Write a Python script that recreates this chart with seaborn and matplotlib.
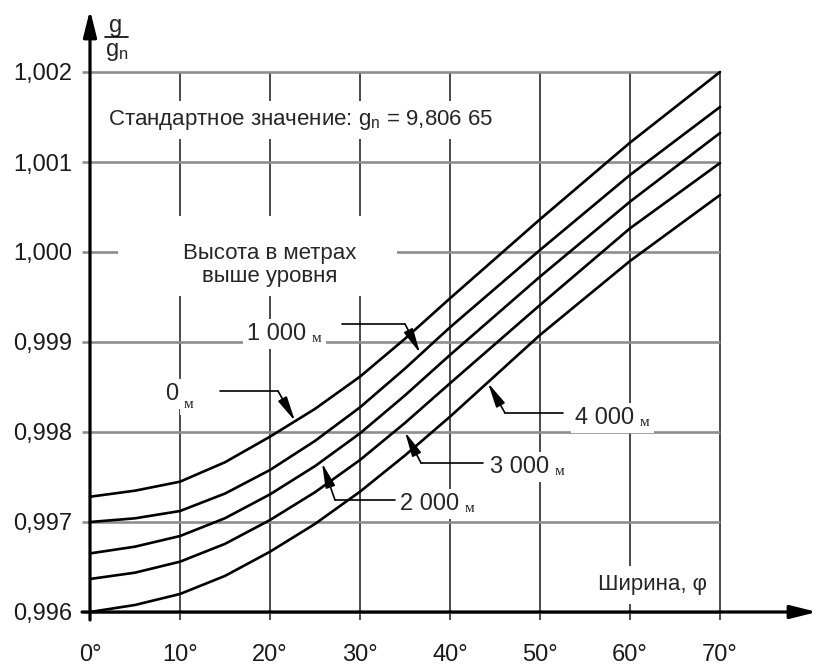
import numpy as np
import pandas as pd
import matplotlib
matplotlib.use("Agg")
import matplotlib.pyplot as plt
import seaborn as sns
from matplotlib.patches import Rectangle

# ---------------- data ----------------
latitude = [0, 5, 10, 15, 20, 25, 30, 35, 40, 45, 50, 60, 70]
g_0m    = [0.997281, 0.997348, 0.997448, 0.997664, 0.997948, 0.998257, 0.998615, 0.999036,
           0.999485, 0.999924, 1.000363, 1.001215, 1.002000]
g_1000m = [0.997000, 0.997041, 0.997122, 0.997316, 0.997578, 0.997901, 0.998274, 0.998705,
           0.999163, 0.999593, 1.000022, 1.000856, 1.001611]
g_2000m = [0.996651, 0.996726, 0.996844, 0.997042, 0.997307, 0.997621, 0.997985, 0.998407,
           0.998856, 0.999291, 0.999726, 1.000559, 1.001322]
g_3000m = [0.996367, 0.996437, 0.996559, 0.996757, 0.997022, 0.997331, 0.997689, 0.998101,
           0.998541, 0.998976, 0.999411, 1.000263, 1.000989]
g_4000m = [0.996000, 0.996078, 0.996200, 0.996401, 0.996670, 0.996979, 0.997337, 0.997740,
           0.998170, 0.998624, 0.999078, 0.999900, 1.000633]
heights = ["0 м", "1 000 м", "2 000 м", "3 000 м", "4 000 м"]

x_ticks = [0, 10, 20, 30, 40, 50, 60, 70]
x_tick_labels = ["0°", "10°", "20°", "30°", "40°", "50°", "60°", "70°"]
y_ticks = [0.996, 0.997, 0.998, 0.999, 1.000, 1.001, 1.002]
y_tick_labels = ["0,996", "0,997", "0,998", "0,999", "1,000", "1,001", "1,002"]

series = [g_0m, g_1000m, g_2000m, g_3000m, g_4000m]
df = pd.DataFrame({
    "lat": np.tile(latitude, len(heights)),
    "g": np.concatenate(series),
    "h": np.repeat(heights, len(latitude)),
})

# ---------------- style ----------------
sns.set_theme(style="white")
plt.rcParams["font.family"] = ["Liberation Sans", "DejaVu Sans"]
plt.rcParams["mathtext.fontset"] = "custom"
plt.rcParams["mathtext.rm"] = "Liberation Sans"
plt.rcParams["mathtext.it"] = "Liberation Sans"

W, H = 817, 668
fig = plt.figure(figsize=(W / 100, H / 100), dpi=100)
fig.patch.set_facecolor("white")
ax = fig.add_axes([82 / W, 1 - 620 / H, (817 - 82) / W, (620 - 10) / H])
ax.set_facecolor("white")


def dx(px):
    return (px - 90) / 9.0


def dy(py):
    return 0.996 + (612 - py) / 90000.0


ax.set_xlim(dx(82), dx(817))
ax.set_ylim(dy(620), dy(10))
for s in ax.spines.values():
    s.set_visible(False)

# grid
ax.vlines(x_ticks[1:], dy(620), y_ticks[-1], colors="#4a4a4a", lw=1.4, zorder=1)
ax.hlines(y_ticks, dx(82), x_ticks[-1], colors="#8e8e8e", lw=1.9, zorder=1)

# curves
sns.lineplot(data=df, x="lat", y="g", hue="h",
             palette=["black"] * len(heights), legend=False, lw=1.9, ax=ax, zorder=4)
ax.set_xlabel("")
ax.set_ylabel("")

# ticks
ax.set_xticks(x_ticks, x_tick_labels)
ax.set_yticks(y_ticks, y_tick_labels)
ax.tick_params(axis="both", length=0, labelsize=17, colors="#1a1a1a")
ax.tick_params(axis="x", pad=17)
ax.tick_params(axis="y", pad=7)

# axis arrows
for xy, xyt, tr in [((1.0, y_ticks[0]), (0.0, y_ticks[0]), ax.get_yaxis_transform()),
                    ((0.0, 1.0), (0.0, 0.0), ax.get_xaxis_transform())]:
    ax.annotate("", xy=xy, xytext=xyt, xycoords=tr,
                arrowprops=dict(arrowstyle="-|>,head_length=0.8,head_width=0.2",
                                lw=2.3, color="black", mutation_scale=20,
                                shrinkA=0, shrinkB=0), annotation_clip=False, zorder=6)

# y-axis quantity g/gn
ax.text(dx(116), dy(26), "g", ha="center", va="center", fontsize=17, zorder=7)
ax.plot([dx(105), dx(128)], [dy(37), dy(37)], color="black", lw=1.2, zorder=7, clip_on=False)
ax.text(dx(117), dy(52), r"$\mathregular{g_n}$", ha="center", va="center", fontsize=17, zorder=7)

# standard value text
ax.text(dx(108), dy(120), r"Стандартное значение: $\mathregular{g_n}$ = 9,806 65",
        ha="left", va="center", fontsize=16, zorder=5,
        bbox=dict(fc="white", ec="none", pad=5))

# "Высота в метрах выше уровня"
ax.add_patch(Rectangle((dx(118), dy(296)), dx(397) - dx(118), dy(216) - dy(296),
                       fc="white", ec="none", zorder=2))
ax.text(dx(270), dy(265), "Высота в метрах\nвыше уровня", ha="center", va="center",
        fontsize=16, linespacing=1.15, zorder=5)

# x-axis quantity
ax.text(dx(653), dy(585), "Ширина, φ", ha="center", va="center", fontsize=16, zorder=5,
        bbox=dict(fc="white", ec="none", pad=6))

# height labels with leaders
labels = [
    # number, left px, baseline px, line start px, bend px, tip px, м drop
    ("0", 165, 400, (220, 391), (278, 391), (295, 421), 6),
    ("1 000", 247, 340, (342, 324), (405, 324), (420, 353), 0),
    ("2 000", 400, 510, (395, 500), (335, 500), (322, 463), 0),
    ("3 000", 490, 473, (483, 463), (421, 463), (405, 432), 0),
    ("4 000", 575, 424, (563, 413), (505, 413), (488, 383), 0),
]
for num, lx, by, p0, p1, p2, drop in labels:
    t = ax.text(dx(lx), dy(by), num, ha="left", va="baseline", fontsize=17, zorder=5,
                bbox=dict(fc="white", ec="none", pad=3))
    ax.annotate("м", xy=(1, 0), xycoords=t, xytext=(4, -drop * 0.72),
                textcoords="offset points", ha="left", va="bottom",
                fontsize=11, family=["Liberation Serif", "DejaVu Serif"], zorder=5,
                bbox=dict(fc="white", ec="none", pad=3))
    ax.plot([dx(p0[0]), dx(p1[0])], [dy(p0[1]), dy(p1[1])], color="black", lw=1.2, zorder=5)
    ax.annotate("", xy=(dx(p2[0]), dy(p2[1])), xytext=(dx(p1[0]), dy(p1[1])),
                arrowprops=dict(arrowstyle="-|>,head_length=1.0,head_width=0.2",
                                lw=1.2, color="black", mutation_scale=15,
                                shrinkA=0, shrinkB=0), zorder=6)

fig.savefig("out.png", dpi=100, facecolor="white")
